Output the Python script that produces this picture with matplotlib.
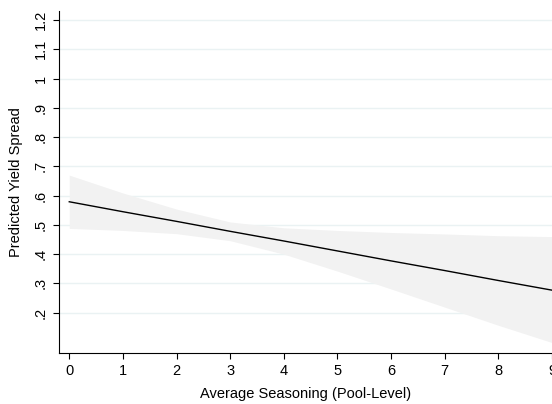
import matplotlib.pyplot as plt

# fitted yield spread by average seasoning, with 95% CI
seasoning = [0, 1, 2, 3, 4, 5, 6, 7, 8, 9]
fit = [0.579, 0.545, 0.512, 0.478, 0.445, 0.411, 0.377, 0.344, 0.310, 0.277]
ci_upper = [0.670, 0.609, 0.554, 0.510, 0.490, 0.481, 0.474, 0.469, 0.463, 0.460]
ci_lower = [0.488, 0.481, 0.470, 0.446, 0.400, 0.342, 0.281, 0.219, 0.157, 0.098]

yticks = [0.2, 0.3, 0.4, 0.5, 0.6, 0.7, 0.8, 0.9, 1.0, 1.1, 1.2]
ylabels = ['.2', '.3', '.4', '.5', '.6', '.7', '.8', '.9', '1', '1.1', '1.2']

plt.rcParams['font.family'] = ['Liberation Sans', 'DejaVu Sans']

fig = plt.figure(figsize=(5.52, 4.04), dpi=100)
ax = fig.add_axes([0.107, 0.126, 0.893, 0.847])

ax.fill_between(seasoning, ci_lower, ci_upper, color='#f2f2f2', linewidth=0, zorder=1)
ax.plot(seasoning, fit, color='black', linewidth=1.0, zorder=3)

ax.set_xlim(-0.19, 9.0)
ax.set_ylim(0.062, 1.231)
ax.set_xticks(seasoning)
ax.set_yticks(yticks)
ax.set_yticklabels(ylabels, rotation=90, va='center')

ax.grid(axis='y', color='#eaf2f3', linewidth=1.0, zorder=0)
ax.set_axisbelow(True)

for side in ['top', 'right']:
    ax.spines[side].set_visible(False)
for side in ['left', 'bottom']:
    ax.spines[side].set_linewidth(0.8)

ax.tick_params(direction='out', length=4, width=0.8, labelsize=10.5, pad=4)
ax.set_xlabel('Average Seasoning (Pool-Level)', fontsize=10.5, labelpad=6)
ax.set_ylabel('Predicted Yield Spread', fontsize=10.5, labelpad=8)

fig.savefig('out.png', dpi=100)
